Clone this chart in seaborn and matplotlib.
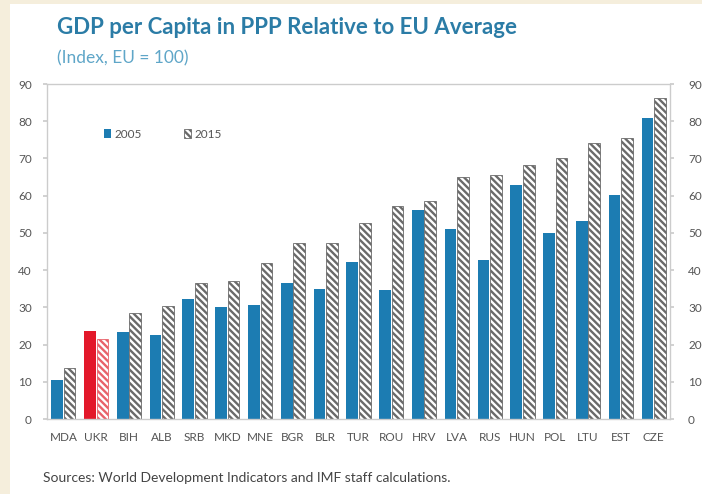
import matplotlib
matplotlib.use("Agg")
import matplotlib.pyplot as plt
import pandas as pd
import seaborn as sns
from matplotlib.patches import Patch, Rectangle

countries = ["MDA", "UKR", "BIH", "ALB", "SRB", "MKD", "MNE", "BGR", "BLR", "TUR",
             "ROU", "HRV", "LVA", "RUS", "HUN", "POL", "LTU", "EST", "CZE"]
gdp_2005 = [10.5, 23.6, 23.3, 22.7, 32.2, 30.0, 30.7, 36.6, 35.0, 42.1,
            34.6, 56.1, 51.1, 42.8, 62.9, 50.0, 53.1, 60.2, 80.8]
gdp_2015 = [13.7, 21.5, 28.6, 30.4, 36.5, 37.2, 41.8, 47.2, 47.2, 52.7,
            57.3, 58.5, 65.0, 65.6, 68.3, 70.1, 74.2, 75.4, 86.2]
years = ["2005", "2015"]
y_ticks = [0, 10, 20, 30, 40, 50, 60, 70, 80, 90]
highlight = "UKR"

title = "GDP per Capita in PPP Relative to EU Average"
subtitle = "(Index, EU = 100)"
source = "Sources: World Development Indicators and IMF staff calculations."

BLUE = "#1c7cb2"
RED = "#e3182a"
HATCH_GRAY = "#6a6a6a"
HATCH_RED = "#e8626a"
CREAM = "#f5eedc"
TEAL = "#2b7ca6"
SUB = "#5fa6c8"
TXT = "#555555"
HATCH = "\\" * 5

df = pd.DataFrame({
    "country": countries * 2,
    "value": gdp_2005 + gdp_2015,
    "year": [years[0]] * len(countries) + [years[1]] * len(countries),
})

sns.set_theme(style="white")
plt.rcParams["font.family"] = ["Lato", "DejaVu Sans"]
plt.rcParams["hatch.linewidth"] = 1.7

fig = plt.figure(figsize=(7.02, 4.94), dpi=100, facecolor=CREAM)
# white card behind everything
fig.patches.append(Rectangle((10 / 702, 0), 1, 1 - 4 / 494, transform=fig.transFigure,
                             facecolor="white", edgecolor="none", zorder=-5))

ax = fig.add_axes([47 / 702, 75 / 494, 623 / 702, 335 / 494])
ax.set_facecolor("white")

sns.barplot(data=df, x="country", y="value", hue="year", order=countries,
            hue_order=years, palette=[BLUE, "white"], saturation=1,
            width=0.76, gap=0.06, legend=False, ax=ax)

# Recolour: solid 2005 bars, hatched 2015 bars, Ukraine highlighted in red
for container, yr in zip(ax.containers, years):
    for bar, c in zip(container, countries):
        if yr == "2005":
            bar.set_facecolor(RED if c == highlight else BLUE)
            bar.set_edgecolor("none")
        else:
            bar.set_facecolor("white")
            bar.set_edgecolor(HATCH_RED if c == highlight else HATCH_GRAY)
            bar.set_hatch(HATCH)
            bar.set_linewidth(0.6)

ax.set_ylim(0, 90)
ax.set_xlim(-0.5, len(countries) - 0.5)
ax.set_yticks(y_ticks)
ax.set_xlabel("")
ax.set_ylabel("")
for s in ax.spines.values():
    s.set_color("#cccccc")
    s.set_linewidth(1.0)
ax.tick_params(axis="y", which="both", left=True, length=3, color="#cccccc",
               labelsize=8.5, labelcolor=TXT, pad=8)
ax.tick_params(axis="x", length=0, labelsize=8.5, labelcolor=TXT, pad=9)

ax2 = ax.twinx()
ax2.set_ylim(0, 90)
ax2.set_yticks(y_ticks)
for s in ax2.spines.values():
    s.set_visible(False)
ax2.tick_params(axis="y", right=True, length=3, color="#cccccc",
                labelsize=8.5, labelcolor=TXT, pad=10)
ax2.grid(False)

handles = [Patch(facecolor=BLUE, edgecolor="none"),
           Patch(facecolor="white", edgecolor=HATCH_GRAY, hatch=HATCH, linewidth=0.6)]
ax.legend(handles, years, loc="center left", bbox_to_anchor=(0.075, 0.85),
          ncol=2, frameon=False, fontsize=8.5, handlelength=0.6, handleheight=0.8,
          handletextpad=0.3, columnspacing=3.5, labelcolor=TXT)

fig.text(57 / 702, 1 - 27 / 494, title, fontsize=16, fontweight="bold",
         color=TEAL, va="center", ha="left")
fig.text(57 / 702, 1 - 58 / 494, subtitle, fontsize=12.5, color=SUB,
         va="center", ha="left")
fig.text(43 / 702, 1 - 478 / 494, source, fontsize=10, color="#444444",
         va="center", ha="left")

fig.savefig("out.png", dpi=100, facecolor=CREAM)
